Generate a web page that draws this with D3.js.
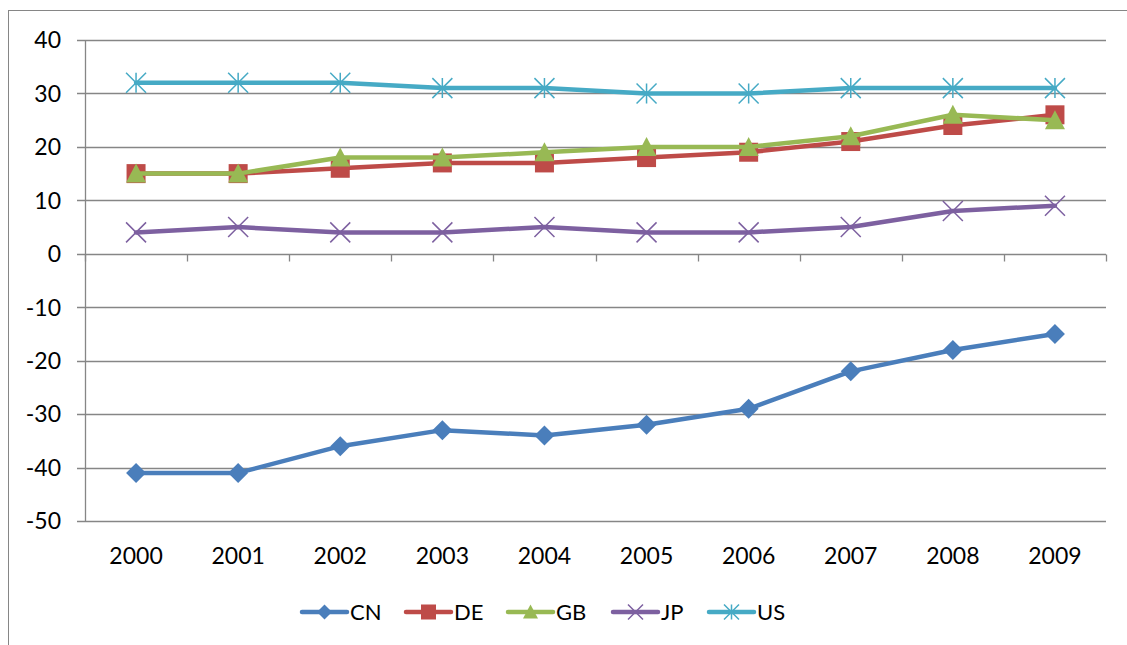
<!DOCTYPE html>
<html><head><meta charset="utf-8">
<script src="https://cdn.jsdelivr.net/npm/d3@7"></script>
<style>body{margin:0;background:#fff}svg{display:block}text{font-family:Lato,"Open Sans",sans-serif;fill:#000}</style>
</head><body>
<svg id="c" width="1127" height="645"></svg>
<script>
const years = ["2000","2001","2002","2003","2004","2005","2006","2007","2008","2009"];
const seriesNames = ["CN","DE","GB","JP","US"];
const CN = [-41,-41,-36,-33,-34,-32,-29,-22,-18,-15];
const DE = [15,15,16,17,17,18,19,21,24,26];
const GB = [15,15,18,18,19,20,20,22,26,25];
const JP = [4,5,4,4,5,4,4,5,8,9];
const US = [32,32,32,31,31,30,30,31,31,31];
const yTicks = [40,30,20,10,0,-10,-20,-30,-40,-50];
const colors = {CN:"#4A7EBB",DE:"#BE4B48",GB:"#98B954",JP:"#7D60A0",US:"#46AAC5"};
const markerType = {CN:"diamond",DE:"square",GB:"triangle",JP:"x",US:"star"};
const data = {CN,DE,GB,JP,US};

const svg = d3.select("#c");
const L=85, R=1106, T=40, B=521;
const x = d3.scaleBand().domain(years).range([L,R]);
const y = d3.scaleLinear().domain([-50,40]).range([B,T]);

// outer border
svg.append("rect").attr("x",8.5).attr("y",10.5).attr("width",1200).attr("height",700)
  .attr("fill","none").attr("stroke","#868686").attr("stroke-width",1);

const grid = "#868686";
svg.append("g").selectAll("line").data(yTicks).join("line")
  .attr("x1",77).attr("x2",R).attr("y1",d=>Math.round(y(d))+0.5).attr("y2",d=>Math.round(y(d))+0.5)
  .attr("stroke",grid).attr("stroke-width",1.3);
svg.append("line").attr("x1",L+0.5).attr("x2",L+0.5).attr("y1",T).attr("y2",B+0.5)
  .attr("stroke",grid).attr("stroke-width",1.3);
svg.append("g").selectAll("text").data(yTicks).join("text")
  .attr("x",61).attr("y",d=>y(d)).attr("dy","0.36em").attr("text-anchor","end")
  .attr("font-size",23).text(d=>d);
const y0 = Math.round(y(0))+0.5;
const bounds = years.map(d=>x(d)).concat([R]);
svg.append("g").selectAll("line").data(bounds).join("line")
  .attr("x1",d=>Math.round(d)+0.5).attr("x2",d=>Math.round(d)+0.5).attr("y1",y0).attr("y2",y0+7)
  .attr("stroke",grid).attr("stroke-width",1.3);
svg.append("g").selectAll("text").data(years).join("text")
  .attr("x",d=>x(d)+x.bandwidth()/2).attr("y",564).attr("text-anchor","middle")
  .attr("font-size",23).text(d=>d);

function marker(g, type, cx, cy, s, col){
  if(type==="diamond"){
    g.append("path").attr("d",`M${cx},${cy-s/2}L${cx+s/2},${cy}L${cx},${cy+s/2}L${cx-s/2},${cy}Z`).attr("fill",col);
  } else if(type==="square"){
    g.append("rect").attr("x",cx-s/2).attr("y",cy-s/2).attr("width",s).attr("height",s).attr("fill",col);
  } else if(type==="triangle"){
    g.append("path").attr("d",`M${cx},${cy-s/2}L${cx+s/2},${cy+s/2-1}L${cx-s/2},${cy+s/2-1}Z`).attr("fill",col);
  } else if(type==="x"){
    const h=s/2;
    g.append("path").attr("d",`M${cx-h},${cy-h}L${cx+h},${cy+h}M${cx-h},${cy+h}L${cx+h},${cy-h}`)
      .attr("stroke",col).attr("stroke-width",1.5).attr("fill","none");
  } else if(type==="star"){
    const h=s/2;
    g.append("path").attr("d",`M${cx-h},${cy-h}L${cx+h},${cy+h}M${cx-h},${cy+h}L${cx+h},${cy-h}M${cx},${cy-h}L${cx},${cy+h}`)
      .attr("stroke",col).attr("stroke-width",1.5).attr("fill","none");
  }
}

const line = d3.line().x((d,i)=>x(years[i])+x.bandwidth()/2).y(d=>y(d));
seriesNames.forEach(n=>{
  const g = svg.append("g");
  g.append("path").datum(data[n]).attr("d",line).attr("fill","none")
    .attr("stroke",colors[n]).attr("stroke-width",4.5).attr("stroke-linejoin","round").attr("stroke-linecap","round");
  data[n].forEach((v,i)=>marker(g, markerType[n], x(years[i])+x.bandwidth()/2, y(v), markerType[n]==="square"?19:20, colors[n]));
});

const legX = [302,406,508,613,709];
const ly = 612;
seriesNames.forEach((n,i)=>{
  const g = svg.append("g");
  g.append("line").attr("x1",legX[i]).attr("x2",legX[i]+45).attr("y1",ly).attr("y2",ly)
    .attr("stroke",colors[n]).attr("stroke-width",4.5).attr("stroke-linecap","round");
  marker(g, markerType[n], legX[i]+22.5, ly, 15, colors[n]);
  g.append("text").attr("x",legX[i]+48).attr("y",ly).attr("dy","0.36em").attr("font-size",22).text(n);
});
</script>
</body></html>
